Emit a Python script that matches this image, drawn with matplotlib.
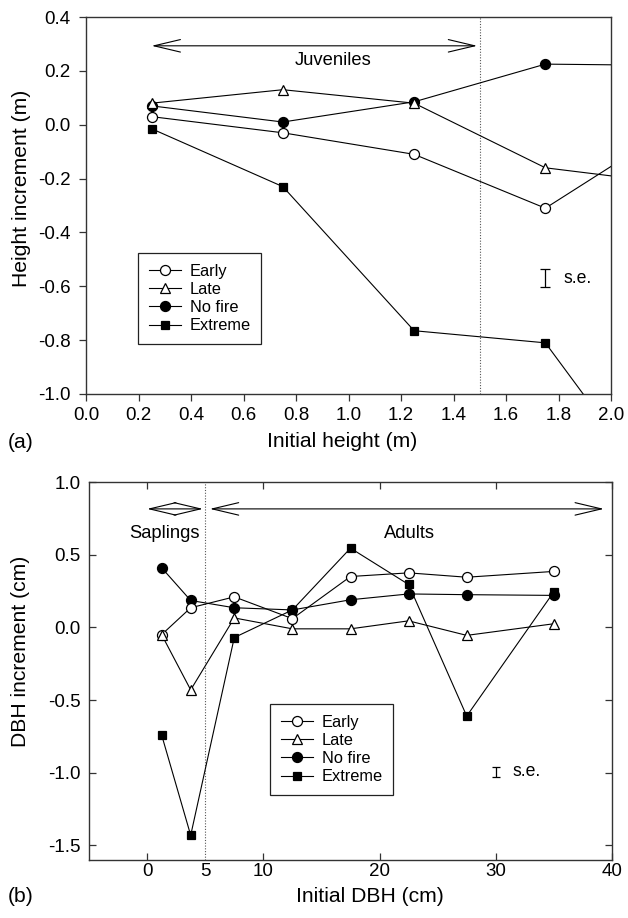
import matplotlib
matplotlib.use("Agg")
import matplotlib.pyplot as plt
import numpy as np

plt.rcParams['font.family'] = ['Liberation Sans', 'DejaVu Sans']
plt.rcParams['axes.unicode_minus'] = False

# ---------------- data ----------------
series_names = ["Early", "Late", "No fire", "Extreme"]

# panel (a): initial height classes (m)
height_x = [0.25, 0.75, 1.25, 1.75, 2.25]
height_early = [0.03, -0.03, -0.11, -0.31, 0.00]
height_late = [0.08, 0.13, 0.08, -0.16, -0.22]
height_nofire = [0.07, 0.01, 0.085, 0.225, 0.22]
height_extreme = [-0.015, -0.23, -0.765, -0.81, -1.47]

# panel (b): initial DBH classes (cm)
dbh_x = [1.25, 3.75, 7.5, 12.5, 17.5, 22.5, 27.5, 35]
dbh_early = [-0.05, 0.135, 0.21, 0.06, 0.35, 0.375, 0.345, 0.385]
dbh_late = [-0.05, -0.43, 0.065, -0.01, -0.01, 0.045, -0.055, 0.025]
dbh_nofire = [0.41, 0.185, 0.135, 0.12, 0.19, 0.23, 0.225, 0.22]
dbh_extreme = [-0.74, -1.43, -0.07, 0.12, 0.545, 0.295, -0.61, 0.245]

# standard error bars
height_se = 0.034
dbh_se = 0.035

height_xticks = [0.0, 0.2, 0.4, 0.6, 0.8, 1.0, 1.2, 1.4, 1.6, 1.8, 2.0]
height_yticks = [-1.0, -0.8, -0.6, -0.4, -0.2, 0.0, 0.2, 0.4]
dbh_xticks = [0, 10, 20, 30, 40]
dbh_yticks = [-1.5, -1.0, -0.5, 0.0, 0.5, 1.0]

# ---------------- styles ----------------
styles = {
    "Early": dict(marker='o', mfc='white', mec='black', ms=7.2, zorder=4),
    "Late": dict(marker='^', mfc='white', mec='black', ms=7.2, zorder=5),
    "No fire": dict(marker='o', mfc='black', mec='black', ms=7.2, zorder=3),
    "Extreme": dict(marker='s', mfc='black', mec='black', ms=6.4, zorder=3),
}
LW = 0.8
SPINE = '#333333'
TICKFS = 13.5
LABFS = 15.2

fig = plt.figure(figsize=(6.28, 9.18), dpi=100)
ax1 = fig.add_axes([86 / 628, 1 - 394 / 918, 525 / 628, 377 / 918])
ax2 = fig.add_axes([89 / 628, 1 - 860 / 918, 523 / 628, 378 / 918])

legend_kw = dict(loc='upper left', borderaxespad=0, fontsize=11.8, frameon=True,
                 fancybox=False, edgecolor='#222222', handlelength=2.0,
                 handletextpad=0.5, labelspacing=0.2, borderpad=0.65, framealpha=1)

# ---------- panel (a) ----------
for name, ys in zip(series_names, [height_early, height_late, height_nofire, height_extreme]):
    ax1.plot(height_x, ys, color='black', lw=LW, mew=0.9, label=name, **styles[name])

ax1.set_xlim(0, 2.0)
ax1.set_ylim(-1.0, 0.4)
ax1.set_xticks(height_xticks)
ax1.set_xticklabels([f"{v:.1f}" for v in height_xticks])
ax1.set_yticks(height_yticks)
ax1.set_yticklabels([f"{v:.1f}" for v in height_yticks])
ax1.tick_params(direction='out', length=5, width=0.9, color=SPINE,
                labelsize=TICKFS, pad=4)
ax1.tick_params(axis='y', pad=6)
for s in ax1.spines.values():
    s.set_color(SPINE)
    s.set_linewidth(1.0)

ax1.axvline(1.5, color='#555555', ls=(0, (1, 1.5)), lw=0.8, zorder=1)
ax1.annotate('', xy=(0.25, 0.293), xytext=(1.49, 0.293),
             arrowprops=dict(arrowstyle='<->,head_length=19,head_width=4.5',
                             mutation_scale=1, lw=0.8, color='black',
                             shrinkA=0, shrinkB=0))
ax1.text(0.94, 0.237, "Juveniles", ha='center', va='center', fontsize=13.2)

ax1.errorbar([1.75], [-0.57], yerr=[height_se], fmt='none', ecolor='black',
             elinewidth=0.9, capsize=3.3, capthick=0.9)
ax1.text(1.82, -0.57, "s.e.", ha='left', va='center', fontsize=12.7)

leg1 = ax1.legend(bbox_to_anchor=(0.099, 0.374), **legend_kw)
leg1.get_frame().set_linewidth(0.9)

# ---------- panel (b) ----------
for name, ys in zip(series_names, [dbh_early, dbh_late, dbh_nofire, dbh_extreme]):
    ax2.plot(dbh_x, ys, color='black', lw=LW, mew=0.9, label=name, **styles[name])

ax2.set_xlim(-5, 40)
ax2.set_ylim(-1.6, 1.0)
ax2.set_xticks(dbh_xticks)
ax2.set_xticklabels([str(v) for v in dbh_xticks])
ax2.set_yticks(dbh_yticks)
ax2.set_yticklabels([f"{v:.1f}" for v in dbh_yticks])
ax2.tick_params(direction='in', length=5, width=0.9, color=SPINE,
                labelsize=TICKFS, top=True, right=True)
ax2.tick_params(axis='x', pad=2)
ax2.tick_params(axis='y', pad=6)
for s in ax2.spines.values():
    s.set_color(SPINE)
    s.set_linewidth(1.0)

ax2.axvline(5, color='#555555', ls=(0, (1, 1.5)), lw=0.8, zorder=1)
ax2.text(5, -0.008, "5", transform=ax2.get_xaxis_transform(), ha='center', va='top',
         fontsize=TICKFS)

ax2.annotate('', xy=(0.0, 0.815), xytext=(4.8, 0.815),
             arrowprops=dict(arrowstyle='<->,head_length=19,head_width=4.5',
                             mutation_scale=1, lw=0.8, color='black',
                             shrinkA=0, shrinkB=0))
ax2.annotate('', xy=(5.4, 0.815), xytext=(39.3, 0.815),
             arrowprops=dict(arrowstyle='<->,head_length=19,head_width=4.5',
                             mutation_scale=1, lw=0.8, color='black',
                             shrinkA=0, shrinkB=0))
ax2.text(1.5, 0.648, "Saplings", ha='center', va='center', fontsize=13.2)
ax2.text(22.6, 0.648, "Adults", ha='center', va='center', fontsize=13.2)

ax2.errorbar([30], [-0.993], yerr=[dbh_se], fmt='none', ecolor='black',
             elinewidth=0.9, capsize=3.0, capthick=0.9)
ax2.text(31.4, -0.993, "s.e.", ha='left', va='center', fontsize=12.7)

leg2 = ax2.legend(bbox_to_anchor=(0.346, 0.413), **legend_kw)
leg2.get_frame().set_linewidth(0.9)

# ---------- labels ----------
fig.text(22 / 628, 1 - 188 / 918, "Height increment (m)", rotation=90,
         ha='center', va='center', fontsize=LABFS)
fig.text(21 / 628, 1 - 651 / 918, "DBH increment (cm)", rotation=90,
         ha='center', va='center', fontsize=LABFS)
fig.text(342 / 628, 1 - 441 / 918, "Initial height (m)", ha='center', va='center',
         fontsize=LABFS)
fig.text(370 / 628, 1 - 897 / 918, "Initial DBH (cm)", ha='center', va='center',
         fontsize=LABFS)
fig.text(8 / 628, 1 - 443 / 918, "(a)", ha='left', va='center', fontsize=LABFS)
fig.text(8 / 628, 1 - 897 / 918, "(b)", ha='left', va='center', fontsize=LABFS)

fig.savefig("out.png", dpi=100)
